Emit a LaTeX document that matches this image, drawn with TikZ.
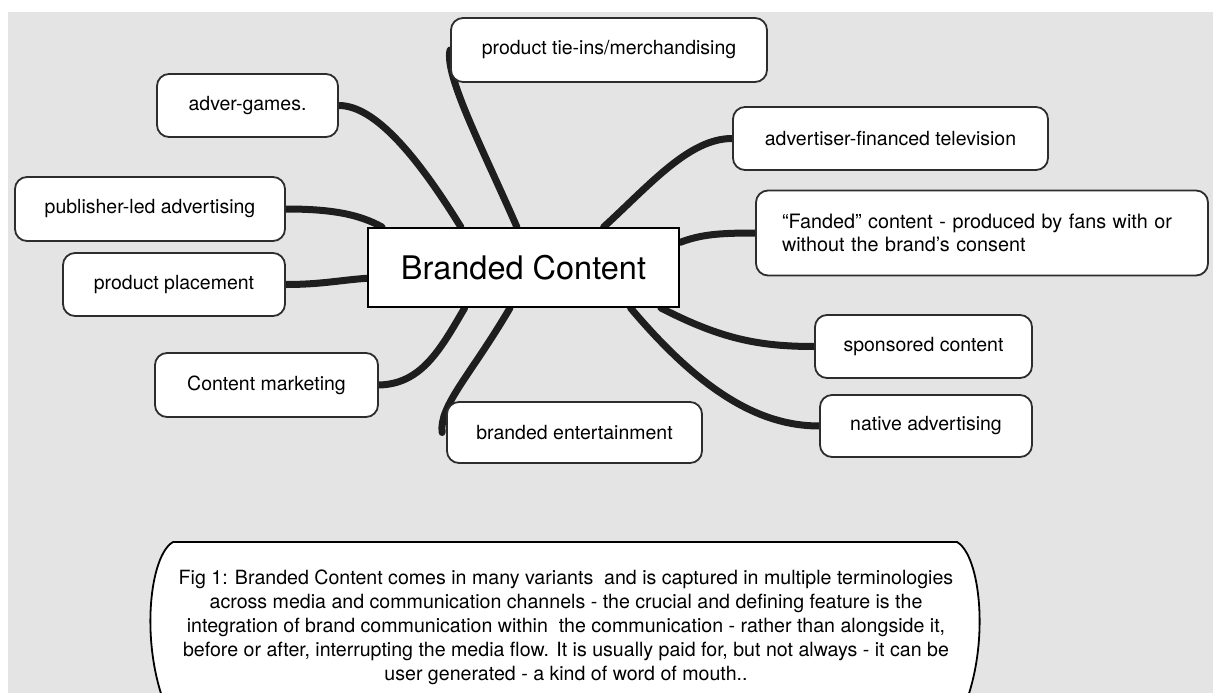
\documentclass[tikz,border=0pt]{standalone}
\usepackage{fontspec}
\setmainfont{TeX Gyre Heros}
\usetikzlibrary{calc}
\definecolor{bg}{RGB}{228,228,228}
\definecolor{ln}{RGB}{30,30,30}
\definecolor{bd}{RGB}{45,45,45}
\pgfdeclarelayer{back}
\pgfdeclarelayer{wires}
\pgfsetlayers{back,wires,main}
\begin{document}
\begin{tikzpicture}[x=1pt,y=-1pt,
  leaf/.style={draw=bd,line width=1.8pt,fill=white,rounded corners=12pt,inner sep=0pt,
    font=\fontsize{19.5}{23}\selectfont,align=center},
  hub/.style={draw=black,line width=1.8pt,fill=white,inner sep=0pt,
    font=\fontsize{32.5}{38}\selectfont},
  link/.style={draw=ln,line width=7pt,line cap=round},
  capbox/.style={draw=black,line width=1.8pt,fill=white}]
\useasboundingbox (0,0) rectangle (1213,693);
\begin{pgfonlayer}{back}
\fill[white] (0,0) rectangle (1213,693);
\fill[bg] (8,12) rectangle (1213,693);
\end{pgfonlayer}

\node[hub,minimum width=311pt,minimum height=79pt] (bc) at (523.5,267.5) {Branded Content};
\node[leaf,minimum width=316pt,minimum height=64pt] (tie) at (609,50) {product tie-ins/merchandising};
\node[leaf,minimum width=181pt,minimum height=63pt] (adv) at (247.5,105.5) {adver-games.};
\node[leaf,minimum width=315pt,minimum height=63pt] (aft) at (890.5,138.5) {advertiser-financed television};
\node[leaf,minimum width=270pt,minimum height=64pt] (pub) at (150,209) {publisher-led advertising};
\node[leaf,minimum width=452pt,minimum height=85pt,align=left,text width=400pt,
  font=\fontsize{19.8}{22.5}\selectfont] (fan) at (982,233)
  {“Fanded” content - produced by fans with or\\without the brand’s consent};
\node[leaf,minimum width=222pt,minimum height=63pt] (pp) at (174,284.5) {product placement};
\node[leaf,minimum width=217pt,minimum height=63pt] (spo) at (923.5,346.5) {sponsored content};
\node[leaf,minimum width=223pt,minimum height=64pt] (cm) at (266.5,385) {Content marketing};
\node[leaf,minimum width=255pt,minimum height=61pt] (be) at (574.5,432.5) {branded entertainment};
\node[leaf,minimum width=212pt,minimum height=62pt] (na) at (926,426) {native advertising};

\begin{pgfonlayer}{wires}
\draw[link] (adv.east) .. controls +(37,0) and +(-42,-68) .. ($(bc.north west)!0.30!(bc.north east)$);
\draw[link] (tie.west) .. controls +(-6,25) and +(-35,-80) .. ($(bc.north west)!0.479!(bc.north east)$);
\draw[link] (aft.west) .. controls +(-43,0) and +(47,-43) .. ($(bc.north west)!0.756!(bc.north east)$);
\draw[link] (pub.east) .. controls +(45,0) and +(-23,-13) .. ($(bc.north west)!0.048!(bc.north east)$);
\draw[link] (pp.east) .. controls +(35,0) and +(-28,2) .. ($(bc.north west)!0.633!(bc.south west)$);
\draw[link] ($(bc.north east)!0.19!(bc.south east)$) .. controls +(21,-8) and +(-36,0) .. (fan.west);
\draw[link] ($(bc.south west)!0.939!(bc.south east)$) .. controls +(60,31) and +(-55,0) .. (spo.west);
\draw[link] ($(bc.south west)!0.842!(bc.south east)$) .. controls +(70,83) and +(-60,0) .. (na.west);
\draw[link] ($(bc.south west)!0.312!(bc.south east)$) .. controls +(-25,43) and +(42,-1) .. (cm.east);
\draw[link] ($(bc.south west)!0.457!(bc.south east)$) .. controls +(-40,68) and +(-3,-27) .. ($(be.west)+(-4,0)$);
\end{pgfonlayer}

\draw[capbox] (173,542) -- (957,542) .. controls (980,555) and (990,640) .. (965,705)
  -- (165,705) .. controls (140,640) and (150,555) .. (173,542) -- cycle;
\node[inner sep=0pt,align=center,font=\fontsize{19.6}{24}\selectfont] (cap) at (566,627)
  {Fig 1: Branded Content comes in many variants\ \ and is captured in multiple terminologies\\
   across media and communication channels - the crucial and defining feature is the\\
   integration of brand communication within\ \ the communication - rather than alongside it,\\
   before or after, interrupting the media flow. It is usually paid for, but not always - it can be\\
   user generated - a kind of word of mouth..};
\end{tikzpicture}
\end{document}
